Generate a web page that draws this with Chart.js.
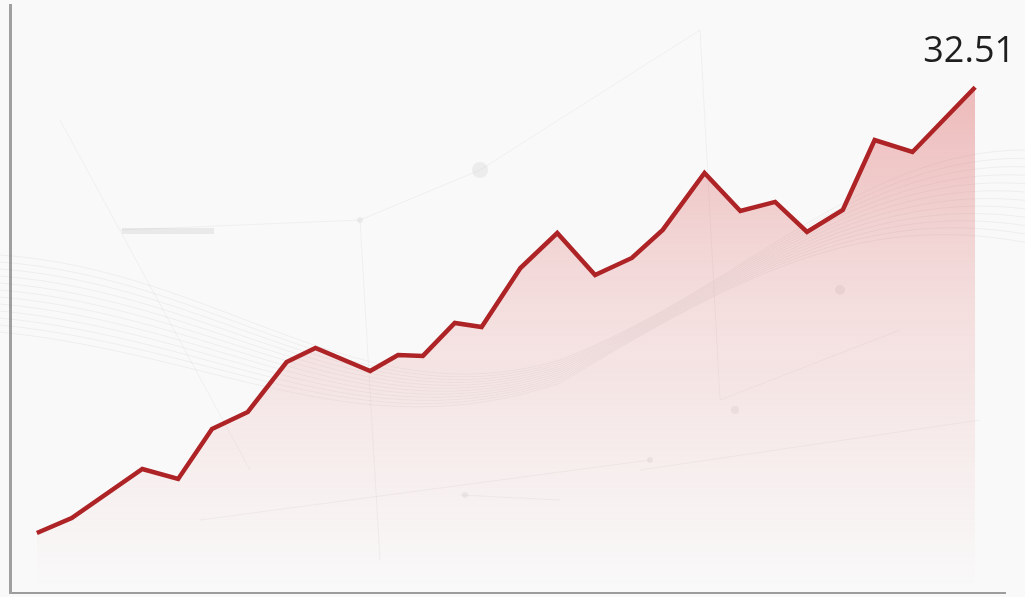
<!DOCTYPE html>
<html>
<head>
<meta charset="utf-8">
<script src="https://cdn.jsdelivr.net/npm/chart.js@4.4.1/dist/chart.umd.min.js"></script>
<style>
  html, body { margin: 0; padding: 0; background: #f9f9f9; }
  #wrap { width: 1025px; height: 597px; position: relative; }
</style>
</head>
<body>
<div id="wrap"><canvas id="c" width="1025" height="597"></canvas></div>
<script>
// Sample positions along the time axis and the series values
const days = [2.7, 6.2, 13.3, 16.9, 20.3, 23.9, 27.8, 30.7, 36.2, 39.0, 41.5, 44.7, 47.4,
              51.3, 55.0, 58.8, 62.5, 65.6, 69.8, 73.4, 76.9, 80.1, 83.7, 86.9, 90.7, 97.0];
const values = [3.86, 4.82, 7.97, 7.33, 10.54, 11.64, 14.85, 15.75, 14.27, 15.30, 15.24, 17.36, 17.10,
                20.89, 23.14, 20.44, 21.54, 23.34, 27.00, 24.56, 25.14, 23.21, 24.62, 29.12, 28.35, 32.51];
const xRange = [0, 100];
const yRange = [0, 37.8];

const points = days.map((d, i) => ({ x: d, y: values[i] }));

// Faint network-style backdrop: bundles of curved strands and a few thin links
const backdrop = {
  id: 'backdrop',
  beforeDatasetsDraw(chart) {
    const { ctx, width } = chart;
    ctx.save();
    ctx.lineWidth = 1;
    ctx.strokeStyle = 'rgba(130,130,130,0.09)';
    for (let k = 0; k < 12; k++) {
      const o = k * 7;
      ctx.beginPath();
      ctx.moveTo(0, 255 + o);
      ctx.bezierCurveTo(220, 270 + o * 1.1, 360, 420 + o * 0.4, 560, 360 + o * 0.3);
      ctx.bezierCurveTo(740, 290 - o * 0.2, 860, 150 + o * 0.8, width, 150 + o * 1.2);
      ctx.stroke();
    }
    const links = [[120, 230, 360, 220], [360, 220, 480, 170], [360, 220, 380, 560], [480, 170, 700, 30],
                   [700, 30, 720, 400], [60, 120, 250, 470], [200, 520, 650, 460], [460, 495, 560, 500],
                   [720, 400, 900, 330], [640, 470, 980, 420]];
    ctx.strokeStyle = 'rgba(130,130,130,0.08)';
    links.forEach(l => { ctx.beginPath(); ctx.moveTo(l[0], l[1]); ctx.lineTo(l[2], l[3]); ctx.stroke(); });
    ctx.fillStyle = 'rgba(130,130,130,0.10)';
    [[480, 170, 8], [360, 220, 3], [735, 410, 4], [650, 460, 3], [840, 290, 5], [465, 495, 3]].forEach(p => {
      ctx.beginPath(); ctx.arc(p[0], p[1], p[2], 0, Math.PI * 2); ctx.fill();
    });
    ctx.fillStyle = 'rgba(150,150,150,0.16)';
    ctx.fillRect(122, 228, 92, 6);
    ctx.restore();
  }
};

// Value label above the final point
const endLabel = {
  id: 'endLabel',
  afterDatasetsDraw(chart) {
    const meta = chart.getDatasetMeta(0);
    const last = meta.data[meta.data.length - 1];
    const { ctx } = chart;
    ctx.save();
    ctx.font = '36px "Open Sans", sans-serif';
    ctx.fillStyle = '#1e1e1e';
    ctx.textAlign = 'center';
    ctx.textBaseline = 'alphabetic';
    ctx.fillText(values[values.length - 1].toFixed(2), last.x - 6, last.y - 25);
    ctx.restore();
  }
};

const ctx = document.getElementById('c').getContext('2d');
new Chart(ctx, {
  type: 'line',
  data: {
    datasets: [{
      data: points,
      borderColor: '#ad2326',
      borderWidth: 4.5,
      borderJoinStyle: 'miter',
      pointRadius: 0,
      tension: 0,
      fill: 'origin',
      backgroundColor(context) {
        const area = context.chart.chartArea;
        if (!area) return 'rgba(220,70,70,0.2)';
        const g = context.chart.ctx.createLinearGradient(0, area.top, 0, area.bottom);
        g.addColorStop(0, 'rgba(214,60,60,0.42)');
        g.addColorStop(0.45, 'rgba(220,90,90,0.20)');
        g.addColorStop(1, 'rgba(230,120,120,0.0)');
        return g;
      }
    }]
  },
  options: {
    responsive: false,
    animation: false,
    layout: { padding: { left: 10, top: 5, right: 20, bottom: 4 } },
    plugins: { legend: { display: false }, tooltip: { enabled: false } },
    scales: {
      x: {
        type: 'linear', min: xRange[0], max: xRange[1],
        ticks: { display: false },
        grid: { display: false, drawTicks: false, tickLength: 0 },
        border: { display: true, color: '#9c9c9c', width: 2 }
      },
      y: {
        min: yRange[0], max: yRange[1],
        ticks: { display: false },
        grid: { display: false, drawTicks: false, tickLength: 0 },
        border: { display: true, color: '#a0a0a0', width: 3 }
      }
    }
  },
  plugins: [backdrop, endLabel]
});
</script>
</body>
</html>
